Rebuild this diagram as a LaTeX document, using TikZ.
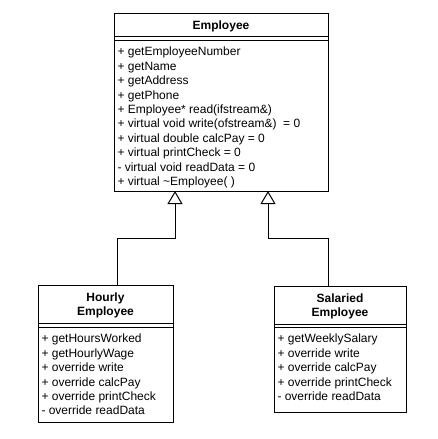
\documentclass[tikz,border=0pt]{standalone}
\usepackage{fontspec}
\setmainfont{Liberation Sans}
\usetikzlibrary{arrows.meta}
\begin{document}
\begin{tikzpicture}[x=1pt,y=-1pt,line width=1pt,
  classbox/.style={draw=black,fill=white,rectangle,inner sep=0pt,outer sep=0pt},
  titletext/.style={anchor=north,inner sep=0pt,align=center,font=\fontsize{12}{14.4}\selectfont\bfseries},
  methods/.style={anchor=north west,inner sep=0pt,align=left,font=\fontsize{12}{14.4}\selectfont},
  inherit/.style={draw=black,line width=1pt,-{Triangle[open,width=15pt,length=13pt]}}]
\useasboundingbox[fill=white] (0,0) rectangle (438,439);

% Employee
\node[classbox,minimum width=214pt,minimum height=178pt] (emp) at (221,102) {};
\draw (emp.west |- 0,36) -- (emp.east |- 0,36);
\draw (emp.west |- 0,40.5) -- (emp.east |- 0,40.5);
\node[titletext] (empT) at (221,18.6) {\strut Employee};
\node[methods] (empM) at (117,45.3) {\strut + getEmployeeNumber\\
+ getName\\
+ getAddress\\
+ getPhone\\
+ Employee* read(ifstream\&)\\
+ virtual void write(ofstream\&)\ \ = 0\\
+ virtual double calcPay = 0\\
+ virtual printCheck = 0\\
- virtual void readData = 0\\
+ virtual \textasciitilde Employee( )};

% Hourly Employee
\node[classbox,minimum width=135pt,minimum height=137pt] (hr) at (105.5,353.5) {};
\draw (hr.west |- 0,323) -- (hr.east |- 0,323);
\draw (hr.west |- 0,327.5) -- (hr.east |- 0,327.5);
\node[titletext] (hrT) at (105.5,290.9) {\strut Hourly\\Employee};
\node[methods] (hrM) at (41,332.3) {\strut + getHoursWorked\\
+ getHourlyWage\\
+ override write\\
+ override calcPay\\
+ override printCheck\\
- override readData};

% Salaried Employee
\node[classbox,minimum width=132pt,minimum height=126pt] (sal) at (340,349) {};
\draw (sal.west |- 0,324) -- (sal.east |- 0,324);
\draw (sal.west |- 0,327.5) -- (sal.east |- 0,327.5);
\node[titletext] (salT) at (340,291.9) {\strut Salaried\\Employee};
\node[methods] (salM) at (277,332.3) {\strut + getWeeklySalary\\
+ override write\\
+ override calcPay\\
+ override printCheck\\
- override readData};

% attachment points
\coordinate (empA) at (175,191);
\coordinate (empB) at (268,191);
\coordinate (hrA) at (117,285);
\coordinate (salA) at (328,286);

\draw[inherit] (hrA) -- (hrA |- 0,238) -| (empA);
\draw[inherit] (salA) -- (salA |- 0,238) -| (empB);
\end{tikzpicture}
\end{document}
